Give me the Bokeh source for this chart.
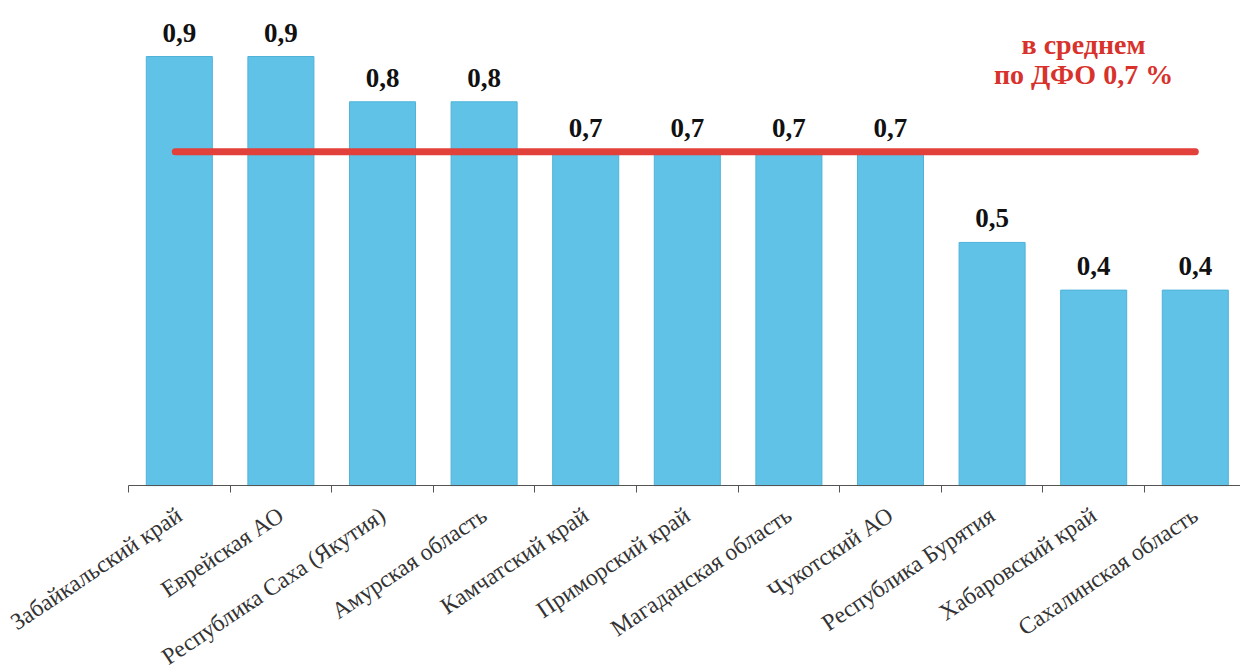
from bokeh.plotting import figure
from bokeh.models import Range1d, FixedTicker, ColumnDataSource
from bokeh.core.properties import value
from bokeh.embed import file_html
from bokeh.resources import INLINE

regions = ["Забайкальский край", "Еврейская АО", "Республика Саха (Якутия)",
           "Амурская область", "Камчатский край", "Приморский край",
           "Магаданская область", "Чукотский АО", "Республика Бурятия",
           "Хабаровский край", "Сахалинская область"]
values = [0.90, 0.90, 0.805, 0.805, 0.70, 0.70, 0.70, 0.70, 0.51, 0.41, 0.41]
value_labels = ["0,9", "0,9", "0,8", "0,8", "0,7", "0,7", "0,7", "0,7", "0,5", "0,4", "0,4"]
average = 0.7
average_text = ["в среднем", "по ДФО 0,7 %"]

n = len(regions)
centers = [i + 0.5 for i in range(n)]

p = figure(width=1240, height=672, output_backend="svg", toolbar_location=None,
           x_range=Range1d(-1.26, 10.945), y_range=Range1d(-0.392, 0.986),
           min_border_left=0, min_border_right=0, min_border_top=15,
           min_border_bottom=0, outline_line_color=None,
           background_fill_color="white", border_fill_color="white")
p.grid.visible = False
p.yaxis.visible = False

src = ColumnDataSource(dict(x=centers, top=values, lab=value_labels))
p.vbar(x="x", top="top", width=0.65, bottom=0, source=src,
       fill_color="#60c2e7", line_color="#4fb3d8", line_width=1)

p.text(x="x", y="top", text="lab", source=src, text_align="center",
       text_baseline="bottom", y_offset=-15, text_font=value("Liberation Serif"),
       text_font_style="bold", text_font_size="27px", text_color="#111111")

p.line(x=[centers[0] - 0.04, centers[-1]], y=[average, average], line_color="#e2403a",
       line_width=7, line_cap="round")

p.text(x=[9.40, 9.40], y=[0.925, 0.862], text=average_text,
       text_align="center", text_baseline="middle", text_font=value("Liberation Serif"),
       text_font_style="bold", text_font_size="28px", text_color="#d8322c")

ax = p.xaxis[0]
ax.fixed_location = 0
ax.bounds = (0, 10.945)
ax.ticker = FixedTicker(ticks=centers, minor_ticks=[float(i) for i in range(n + 1)])
ax.major_label_overrides = {c: r for c, r in zip(centers, regions)}
ax.major_tick_out = 0
ax.major_tick_in = 0
ax.minor_tick_out = 7
ax.minor_tick_in = 0
ax.minor_tick_line_color = "#555555"
ax.axis_line_color = "#555555"
ax.axis_line_width = 1.2
ax.major_label_orientation = 0.59
ax.major_label_text_font = "Liberation Serif"
ax.major_label_text_font_size = "23.5px"
ax.major_label_text_color = "#333333"
ax.major_label_standoff = 20

open("out.html", "w").write(file_html(p, INLINE))
